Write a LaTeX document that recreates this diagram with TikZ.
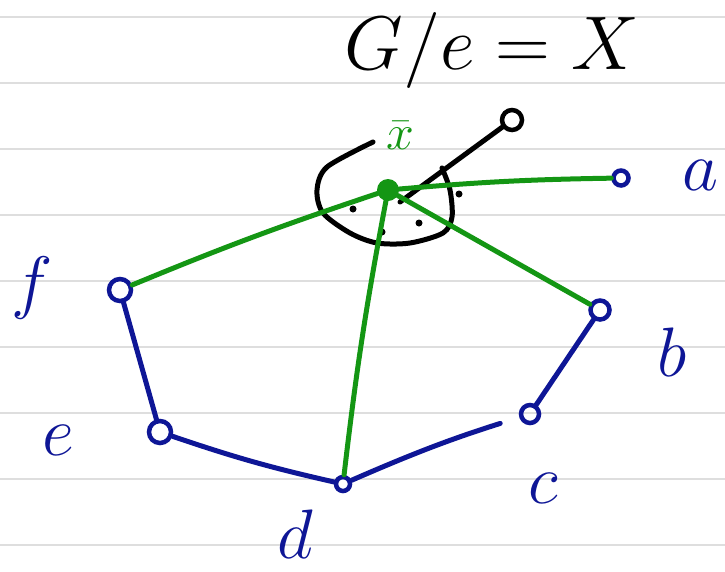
\documentclass[tikz,border=0pt]{standalone}
\usepackage{fix-cm}
\usetikzlibrary{positioning}
\definecolor{inkblue}{RGB}{14,22,150}
\definecolor{inkgreen}{RGB}{20,150,20}
\definecolor{rulegray}{RGB}{222,222,222}

\begin{document}
\begin{tikzpicture}[x=1pt, y=-1pt,
    vtx/.style={draw=inkblue, circle, line width=4.5pt, inner sep=0pt, minimum size=16pt},
    blueedge/.style={draw=inkblue, line width=5pt, line cap=round},
    greenedge/.style={draw=inkgreen, line width=5pt, line cap=round},
    inkline/.style={draw=black, line width=5pt, line cap=round, line join=round},
    lbl/.style={text=inkblue, inner sep=0pt, font=\fontsize{70}{70}\selectfont},
    ruling/.style={draw=rulegray, line width=2.5pt}
  ]
  \useasboundingbox (0,0) rectangle (725,571);

  % ruled paper
  \foreach \y in {17,83,...,545}
    \draw[ruling] (0,\y) -- (725,\y);

  \node[font=\fontsize{76}{76}\selectfont] (title) at (492,50) {$G/e = X$};

  % contracted vertex
  \node[circle, fill=inkgreen, minimum size=22pt, inner sep=0pt] (xbar) at (388,190) {};
  \node[text=inkgreen, inner sep=0pt, font=\fontsize{50}{50}\selectfont] (xbarlbl) at (400,136) {$\bar{x}$};
  \node[circle, draw, line width=4.5pt, inner sep=0pt, minimum size=20pt] (eloop) at (512,120) {};

  % outer vertices
  \node[vtx, minimum size=15pt] (a) at (621,178) {};
  \node[vtx, minimum size=19pt] (b) at (600,310) {};
  \node[vtx, minimum size=18pt] (c) at (530,414) {};
  \node[vtx, minimum size=14pt] (d) at (343,484) {};
  \node[vtx, minimum size=22pt] (e) at (160,432) {};
  \node[vtx, minimum size=22pt] (f) at (120,290) {};

  \node[lbl] (alab) at (700,175) {$a$};
  \node[lbl] (blab) at (672,352) {$b$};
  \node[lbl] (clab) at (543,488) {$c$};
  \node[lbl] (dlab) at (295,534) {$d$};
  \node[lbl] (elab) at (58,440) {$e$};
  \node[lbl] (flab) at (32,288) {$f$};

  % loop around the contracted vertex
  \draw[inkline] plot[smooth] coordinates {(373,142) (327,167) (317,190) (323,213)
    (350,233) (377,243) (410,243) (443,233) (452,217) (450,190) (442,168)};
  \draw[inkline] ([shift={(12,12)}]xbar.center) -- (eloop);
  \foreach \p in {(353,209),(382,232),(419,223),(459,194)}
    \fill \p circle (3.5);

  \draw[greenedge] (xbar) to[bend left=2] (a);
  \draw[greenedge] (xbar) -- (b);
  \draw[greenedge] (xbar) to[bend right=2] (f);
  \draw[greenedge] (xbar) to[bend right=2] (d);

  \draw[blueedge] (f) -- (e);
  \draw[blueedge] (e) to[bend right=3] (d);
  \draw[blueedge, shorten >=20pt] (d) to[bend left=3] (c);
  \draw[blueedge] (c) -- (b);
\end{tikzpicture}
\end{document}
